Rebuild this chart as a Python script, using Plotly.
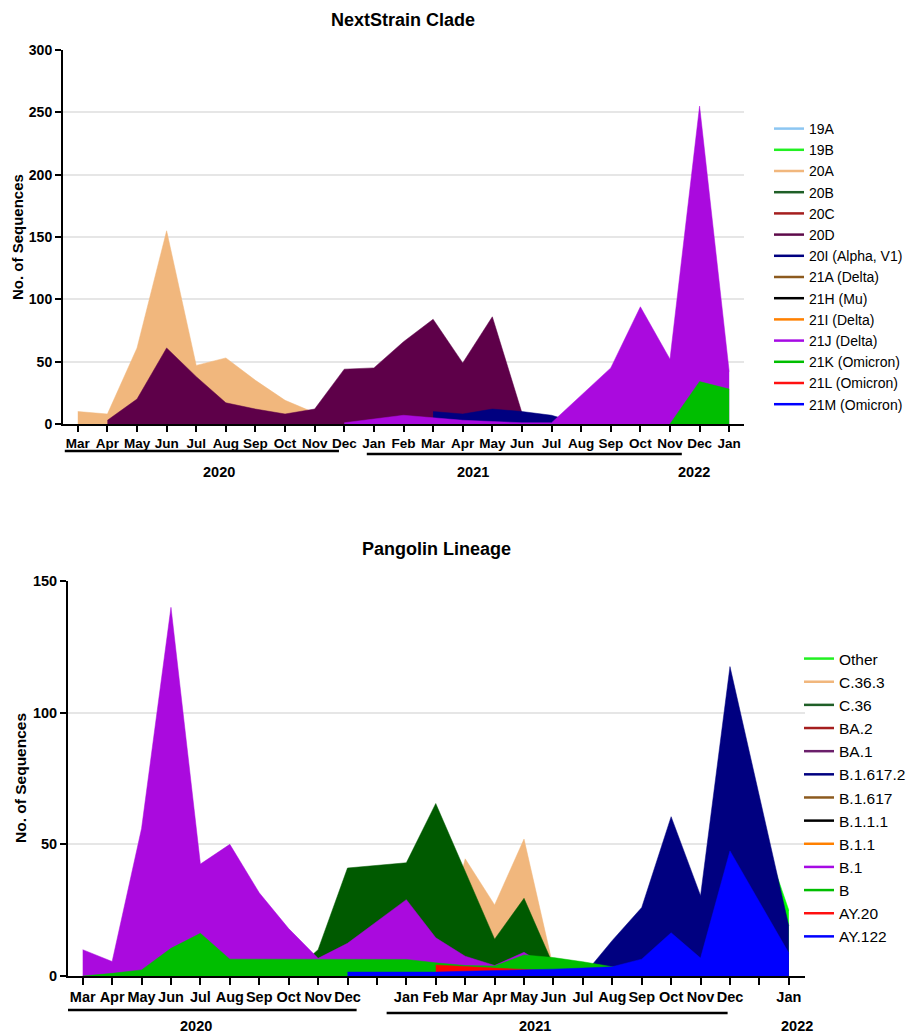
import plotly.graph_objects as go

FONT = "Liberation Sans, Arial, Helvetica, sans-serif"
N = None

# ---------------- NextStrain clades: Mar 2020 .. Jan 2022 ----------------
clade_months = ["Mar", "Apr", "May", "Jun", "Jul", "Aug", "Sep", "Oct", "Nov", "Dec",
                "Jan", "Feb", "Mar", "Apr", "May", "Jun", "Jul", "Aug", "Sep", "Oct",
                "Nov", "Dec", "Jan"]

clade_20A = [10, 8, 61, 155, 47, 53, 35, 19, 9, N, N, N, N, N, N, N, N, N, N, N, N, N, N]
clade_20D = [N, 3, 20, 61, 38, 17, 12, 8, 12, 44, 45, 66, 84, 49, 86, 9, N, N, N, N, N, N, N]
clade_20I = [N, N, N, N, N, N, N, N, N, N, N, N, 10, 8, 12, 10, 7, 0, N, N, N, N, N]
clade_21J = [N, N, N, N, N, N, N, N, N, 1, 4, 7, 5, 3, 2, 1, 1, 23, 45, 94, 52, 255, 42]
clade_21K = [N, N, N, N, N, N, N, N, N, N, N, N, N, N, N, N, N, N, N, N, 0, 34, 28]

clade_names = ["19A", "19B", "20A", "20B", "20C", "20D", "20I (Alpha, V1)", "21A (Delta)",
               "21H (Mu)", "21I (Delta)", "21J (Delta)", "21K (Omicron)", "21L (Omicron)",
               "21M (Omicron)"]
clade_colors = ["#8CC6F2", "#22F022", "#F1B77D", "#1F5F27", "#A51E1E", "#5E0A4A", "#000080",
                "#8C5A1E", "#000000", "#FF8000", "#A60AE4", "#00BE00", "#FF1010", "#0000FF"]
clade_series = {"20A": clade_20A, "20D": clade_20D, "20I (Alpha, V1)": clade_20I,
                "21J (Delta)": clade_21J, "21K (Omicron)": clade_21K}
clade_fill = {"20A": "#F1B77D", "20D": "#5E0049", "20I (Alpha, V1)": "#000080",
              "21J (Delta)": "#AA0ADE", "21K (Omicron)": "#00BE00"}

# ---------------- Pangolin lineages: Mar 2020 .. Jan 2022 (with spacer slots) ----------------
pango_months = ["Mar", "Apr", "May", "Jun", "Jul", "Aug", "Sep", "Oct", "Nov", "Dec", "",
                "Jan", "Feb", "Mar", "Apr", "May", "Jun", "Jul", "Aug", "Sep", "Oct", "Nov",
                "Dec", "", "Jan"]

pango_other = [N, N, N, N, N, N, N, N, N, N, N, N, N, N, N, N, N, N, N, N, N, 0, 90, N, 25]
pango_c363 = [N, N, N, N, N, N, N, N, N, N, N, N, 0, 44.5, 27, 52, 3, N, N, N, N, N, N, N, N]
pango_c36 = [N, N, N, N, N, N, N, 0, 10, 41, N, 43, 65.5, 40, 14, 29.5, 4, N, N, N, N, N, N, N, N]
pango_b16172 = [N, N, N, N, N, N, N, N, N, N, N, N, N, N, N, N, N, 0, 13.5, 26, 60.5, 30.5, 117.5, N, 19]
pango_b1 = [10, 5.5, 56, 140, 42.5, 50, 31.6, 18, 6.7, 12.4, N, 29, 14.5, 7.5, 4, 9, 2, N, N, N, N, N, N, N, N]
pango_b = [0, 1, 2.3, 10.5, 16.2, 6.4, 6.4, 6.4, 6.4, 6.4, N, 6.3, 5, 4, 3.8, 8, 7, 5.4, 3.5, 2, N, N, N, N, N]
pango_ay20 = [N, N, N, N, N, N, N, N, N, N, N, N, 4.2, 3.5, 3, 2.5, 2, N, N, N, N, N, N, N, N]
pango_ay122 = [N, N, N, N, N, N, N, N, N, 1.5, N, 1.5, 1.5, 1.8, 2, 2.3, 2.6, 3, 3.5, 6.4, 16.4, 6.8, 47.5, N, 8.7]

pango_names = ["Other", "C.36.3", "C.36", "BA.2", "BA.1", "B.1.617.2", "B.1.617", "B.1.1.1",
               "B.1.1", "B.1", "B", "AY.20", "AY.122"]
pango_colors = ["#22F022", "#F1B77D", "#1F5F27", "#A51E1E", "#6B1F6B", "#000080", "#8C5A1E",
                "#000000", "#FF8000", "#A60AE4", "#00BE00", "#FF1010", "#0000FF"]
pango_series = {"Other": pango_other, "C.36.3": pango_c363, "C.36": pango_c36,
                "B.1.617.2": pango_b16172, "B.1": pango_b1, "B": pango_b,
                "AY.20": pango_ay20, "AY.122": pango_ay122}
pango_fill = {"Other": "#00FF00", "C.36.3": "#F1B77D", "C.36": "#005A00",
              "B.1.617.2": "#000080", "B.1": "#AA0ADE", "B": "#00BE00",
              "AY.20": "#FF0000", "AY.122": "#0000FF"}

fig = go.Figure()


def add_panel(names, colors, series, fills, xa, ya, legend):
    # areas first, back to front in legend order
    for name in names:
        if name not in series:
            continue
        vals = series[name]
        xs = [i for i, v in enumerate(vals) if v is not None]
        ys = [vals[i] for i in xs]
        fig.add_trace(go.Scatter(x=xs, y=ys, mode="lines", fill="tozeroy",
                                 fillcolor=fills[name],
                                 line=dict(color=fills[name], width=0.5),
                                 showlegend=False, hoverinfo="skip",
                                 xaxis=xa, yaxis=ya))
    # legend entries drawn as plain line keys
    for name, col in zip(names, colors):
        fig.add_trace(go.Scatter(x=[None], y=[None], mode="lines", name=name,
                                 line=dict(color=col, width=2.5),
                                 xaxis=xa, yaxis=ya, legend=legend))


add_panel(clade_names, clade_colors, clade_series, clade_fill, "x", "y", "legend")
add_panel(pango_names, pango_colors, pango_series, pango_fill, "x2", "y2", "legend2")

W, H = 911, 1035


def py(px):
    return 1 - px / H


axis_common = dict(showline=True, linecolor="black", linewidth=2, ticks="outside",
                   tickcolor="black", tickwidth=2, zeroline=False)

fig.update_layout(
    width=W, height=H,
    margin=dict(l=0, r=0, t=0, b=0, autoexpand=False),
    paper_bgcolor="white", plot_bgcolor="white",
    font=dict(family=FONT, color="black"),
    xaxis=dict(domain=[63 / W, 744 / W], anchor="y", range=[-0.5, 22.5],
               tickvals=list(range(len(clade_months))), ticktext=clade_months,
               ticklen=6, showgrid=False, tickangle=0,
               tickfont=dict(family=FONT, size=13.5, weight="bold", color="black"),
               **axis_common),
    yaxis=dict(domain=[py(424), py(50)], anchor="x", range=[0, 300], dtick=50,
               ticklen=6, showgrid=True, gridcolor="#E6E6E6", gridwidth=1.5,
               tickfont=dict(family=FONT, size=14, weight="bold", color="black"),
               **axis_common),
    xaxis2=dict(domain=[68 / W, 805 / W], anchor="y2", range=[-0.5, 24.55],
                tickvals=list(range(len(pango_months))), ticktext=pango_months,
                ticklen=7, showgrid=False, tickangle=0,
                tickfont=dict(family=FONT, size=14.5, weight="bold", color="black"),
                **axis_common),
    yaxis2=dict(domain=[py(976), py(581)], anchor="x2", range=[0, 150], dtick=50,
                ticklen=6, showgrid=True, gridcolor="#E6E6E6", gridwidth=1.5,
                tickfont=dict(family=FONT, size=14.5, weight="bold", color="black"),
                **axis_common),
    legend=dict(x=769 / W, y=py(113), xanchor="left", yanchor="top",
                font=dict(family=FONT, size=14, color="black"),
                bgcolor="rgba(0,0,0,0)", tracegroupgap=0),
    legend2=dict(x=799 / W, y=py(642), xanchor="left", yanchor="top",
                 font=dict(family=FONT, size=15.5, color="black"),
                 bgcolor="rgba(0,0,0,0)", tracegroupgap=0),
)

bold = dict(family=FONT, color="black", weight="bold")

annotations = [
    dict(text="NextStrain Clade", x=403 / W, y=py(20), xref="paper", yref="paper",
         xanchor="center", yanchor="middle", showarrow=False, font=dict(size=18, **bold)),
    dict(text="Pangolin Lineage", x=436 / W, y=py(549), xref="paper", yref="paper",
         xanchor="center", yanchor="middle", showarrow=False, font=dict(size=18, **bold)),
    dict(text="No. of Sequences", x=18 / W, y=py(237), xref="paper", yref="paper",
         xanchor="center", yanchor="middle", textangle=-90, showarrow=False,
         font=dict(size=15, **bold)),
    dict(text="No. of Sequences", x=20 / W, y=py(778), xref="paper", yref="paper",
         xanchor="center", yanchor="middle", textangle=-90, showarrow=False,
         font=dict(size=15.5, **bold)),
]

# year brackets under the month axes (x in category units)
top_years = [("2020", -0.44, 8.82, 4.76, 451), ("2021", 9.76, 20.4, 13.34, 454),
             ("2022", None, None, 20.8, None)]
bot_years = [("2020", -0.82, 9.31, 3.84, 1010), ("2021", 10.33, 21.92, 15.36, 1013),
             ("2022", None, None, 24.27, None)]

shapes = []
for xref, years, label_y in (("x", top_years, 472), ("x2", bot_years, 1026)):
    for label, x0, x1, xc, ly in years:
        if x0 is not None:
            shapes.append(dict(type="line", xref=xref, yref="paper", x0=x0, x1=x1,
                               y0=py(ly), y1=py(ly), line=dict(color="black", width=2.5)))
        annotations.append(dict(text=label, x=xc, y=py(label_y), xref=xref, yref="paper",
                                xanchor="center", yanchor="middle", showarrow=False,
                                font=dict(size=14.5, **bold)))

fig.update_layout(annotations=annotations, shapes=shapes)

fig.write_html("out.html")
